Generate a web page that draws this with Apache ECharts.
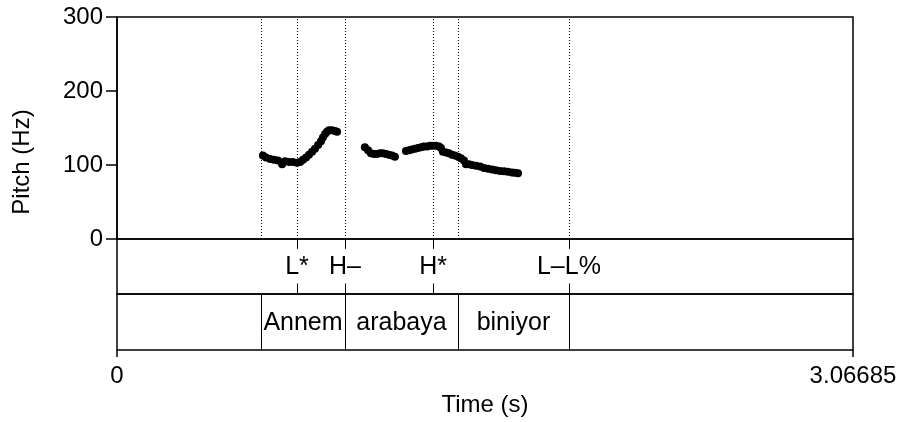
<!DOCTYPE html>
<html>
<head>
<meta charset="utf-8">
<script src="https://cdn.jsdelivr.net/npm/echarts@6/dist/echarts.min.js"></script>
<style>
html,body{margin:0;padding:0;background:#fff;}
#chart{width:901px;height:422px;}
</style>
</head>
<body>
<div id="chart"></div>
<script>
// ---- data ----
const duration = 3.06685;
const pitchTime = [
  0.608,0.621,0.638,0.654,0.671,0.688,0.700,0.717,0.733,0.750,0.763,0.775,0.788,0.800,0.813,0.825,0.838,0.850,0.858,0.867,0.875,0.883,0.896,0.908,0.917,
  1.033,1.046,1.058,1.071,1.083,1.096,1.108,1.121,1.133,1.146,1.158,
  1.204,1.217,1.229,1.242,1.254,1.267,1.279,1.292,1.304,1.317,1.329,1.342,1.350,1.358,1.371,1.383,1.396,1.408,1.421,1.433,1.446,1.454,1.467,1.479,1.496,1.513,1.529,1.546,1.563,1.579,1.596,1.613,1.629,1.646,1.658,1.671
];
const pitchHz = [
  113,110,108,107,106,101,105,104,104,103,104,107,110,114,118,122,127,132,137,142,145,147,147,146,145,
  124,120,116,115,115,116,116,115,114,113,111,
  119,120,121,122,123,124,125,125,126,126,126,125,123,118,117,116,114,113,111,109,106,101,101,100,99,98,96,95,94,93,92,91.5,91,90,89.5,89
];
const toneTimes = [0.750, 0.950, 1.317, 1.883];
const toneLabels = ["L*", "H\u2013", "H*", "L\u2013L%"];
const wordBounds = [0.600, 0.950, 1.421, 1.883];
const words = ["Annem", "arabaya", "biniyor"];
const yTicks = [0, 100, 200, 300];

// ---- chart ----
const FONT = "'Liberation Sans', Arial, sans-serif";
const dottedTimes = Array.from(new Set(wordBounds.concat(toneTimes))).sort((a,b)=>a-b);
const wordData = words.map((w,i)=>[(wordBounds[i]+wordBounds[i+1])/2, 0.5, w]);
const toneData = toneTimes.map((t,i)=>[t, 0.5, toneLabels[i]]);

const chart = echarts.init(document.getElementById('chart'), null, {renderer:'canvas'});
const L = 117, W = 736;
const gridBase = {left:L, width:W, show:true, borderColor:'#000', borderWidth:1.5, backgroundColor:'transparent'};
const hiddenX = (gi)=>({type:'value', gridIndex:gi, min:0, max:duration, show:false});
const hiddenY = (gi)=>({type:'value', gridIndex:gi, min:0, max:1, show:false});

function vline(color, dash, y0, y1, width){
  return function(params, api){
    const t = api.value(0);
    const p1 = api.coord([t, y0]);
    const p2 = api.coord([t, y1]);
    return {type:'line', shape:{x1:Math.round(p1[0])+0.5, y1:p1[1], x2:Math.round(p2[0])+0.5, y2:p2[1]},
      style:{stroke:color, lineWidth:width, lineDash:dash}};
  };
}

chart.setOption({
  animation:false,
  backgroundColor:'#fff',
  grid:[
    Object.assign({top:17, height:222}, gridBase),
    Object.assign({top:239, height:55}, gridBase),
    Object.assign({top:294, height:56}, gridBase)
  ],
  xAxis:[
    hiddenX(0),
    hiddenX(1),
    {type:'value', gridIndex:2, min:0, max:duration,
      axisLine:{show:false}, splitLine:{show:false},
      axisTick:{show:true, length:7, customValues:[0, duration], lineStyle:{color:'#000', width:1.5}},
      axisLabel:{show:true, customValues:[0, duration], margin:14, fontSize:24, color:'#000', fontFamily:FONT,
        formatter:(v)=>String(v)},
      name:'Time (s)', nameLocation:'middle', nameGap:43,
      nameTextStyle:{fontSize:24, color:'#000', fontFamily:FONT}}
  ],
  yAxis:[
    {type:'value', gridIndex:0, min:0, max:300, interval:100,
      axisLine:{show:true, lineStyle:{color:'#000', width:1.5}}, splitLine:{show:false},
      axisTick:{show:true, length:11, customValues:yTicks, lineStyle:{color:'#000', width:1.5}},
      axisLabel:{show:true, customValues:yTicks, margin:14, fontSize:24, color:'#000', fontFamily:FONT}},
    hiddenY(1),
    hiddenY(2)
  ],
  graphic:[
    {type:'text', x:22, y:162, rotation:Math.PI/2,
      style:{text:'Pitch (Hz)', fontSize:24, fill:'#000', fontFamily:FONT, align:'center', verticalAlign:'middle'}}
  ],
  series:[
    {type:'custom', xAxisIndex:0, yAxisIndex:0, data:dottedTimes.map(t=>[t,0]),
      renderItem: vline('#000', [1,2], 0, 300, 1), silent:true},
    {type:'scatter', xAxisIndex:0, yAxisIndex:0, symbol:'circle', symbolSize:8,
      itemStyle:{color:'#000', opacity:1}, data:pitchTime.map((t,i)=>[t, pitchHz[i]]), silent:true},
    {type:'custom', xAxisIndex:1, yAxisIndex:1, data:toneTimes.map(t=>[t,0]),
      renderItem: vline('#000', null, 1, 0.82, 1), silent:true},
    {type:'custom', xAxisIndex:1, yAxisIndex:1, data:toneTimes.map(t=>[t,0]),
      renderItem: vline('#000', null, 0, 0.19, 1), silent:true},
    {type:'custom', xAxisIndex:1, yAxisIndex:1, data:toneData,
      renderItem:function(params, api){
        const p = api.coord([api.value(0), 0.5]);
        return {type:'text', x:p[0], y:p[1]+1,
          style:{text:toneLabels[params.dataIndex], fontSize:25, fill:'#000', fontFamily:FONT, align:'center', verticalAlign:'middle'}};
      }, silent:true},
    {type:'custom', xAxisIndex:2, yAxisIndex:2, data:wordBounds.map(t=>[t,0]),
      renderItem: vline('#000', null, 0, 1, 1), silent:true},
    {type:'custom', xAxisIndex:2, yAxisIndex:2, data:wordData,
      renderItem:function(params, api){
        const p = api.coord([api.value(0), 0.5]);
        return {type:'text', x:p[0], y:p[1]+1,
          style:{text:words[params.dataIndex], fontSize:25, fill:'#000', fontFamily:FONT, align:'center', verticalAlign:'middle'}};
      }, silent:true}
  ]
});
</script>
</body>
</html>
